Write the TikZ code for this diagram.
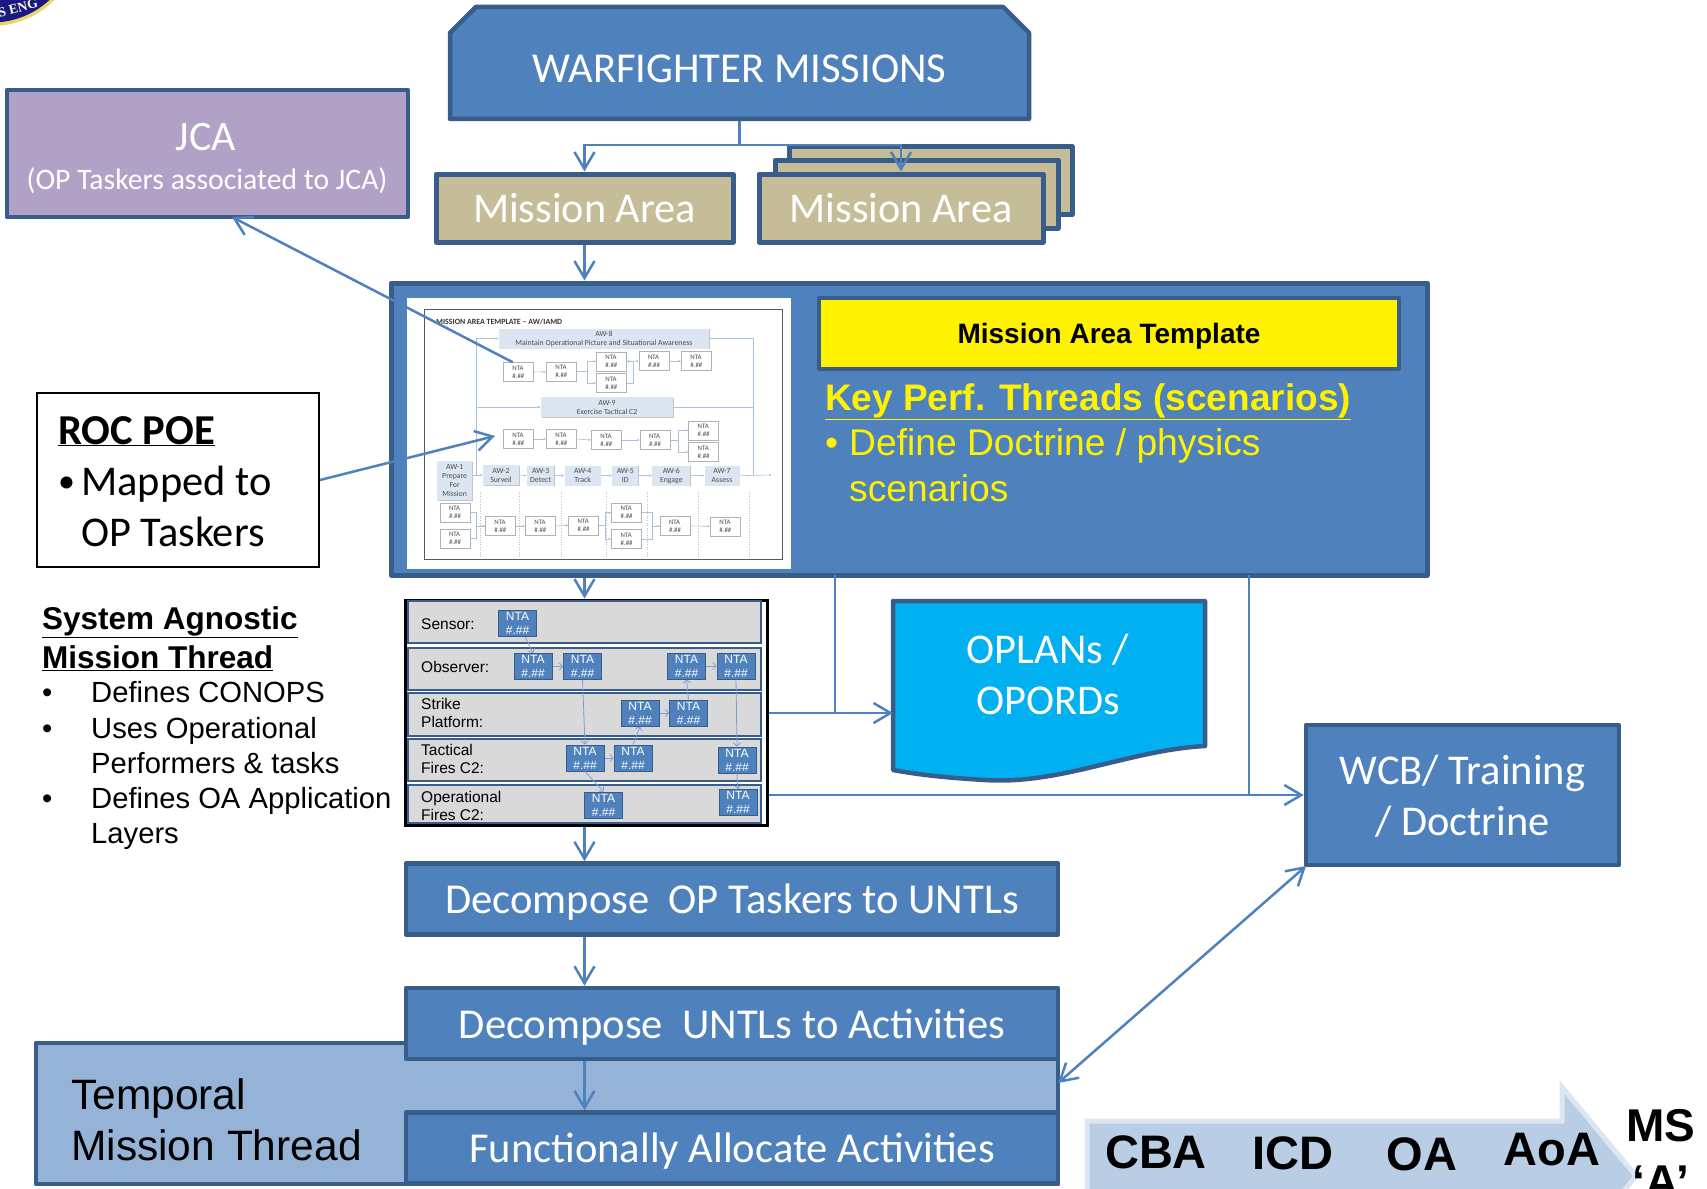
\documentclass[tikz,border=0pt]{standalone}
\usepackage{fontspec}
\setmainfont{Carlito}
\newfontfamily\arialfont{Liberation Sans}
\newfontfamily\sealfont{Liberation Serif}
\usepackage{xcolor}
\usetikzlibrary{arrows.meta}
\usetikzlibrary{shapes.misc}
\usetikzlibrary{shadows}
\definecolor{boxblue}{HTML}{4F81BD}
\definecolor{edgeblue}{HTML}{385D8A}
\definecolor{jcapurple}{HTML}{B2A1C7}
\definecolor{tan}{HTML}{C4BD97}
\definecolor{cyanbox}{HTML}{00B0F0}
\definecolor{temporalblue}{HTML}{95B3D7}
\definecolor{arrowfill}{HTML}{B9CDE5}
\definecolor{arrowedge}{HTML}{DCE6F2}
\definecolor{thumbline}{HTML}{A9C3DF}
\newcommand{\fs}[2]{\fontsize{#1}{#2}\selectfont}
\newcommand{\ntatext}{NTA\\\#.\#\#}
\tikzset{
  bluebox/.style={draw=edgeblue,line width=4.5pt,line join=round,fill=boxblue,text=white,inner sep=0pt,font=\fs{42.6}{51}},
  tanbox/.style={draw=edgeblue,line width=5pt,line join=round,fill=tan,text=white,inner sep=0pt,text depth=0pt,font=\fs{42.3}{46},minimum height=68pt},
  link/.style={color=boxblue,line width=2.5pt},
  arrowlink/.style={link,-{Straight Barb[length=17pt,width=20pt,line width=2.5pt]}},
  lane/.style={draw=edgeblue,line width=2pt,fill=black!15,minimum width=353pt,inner sep=0pt},
  lanetext/.style={anchor=west,align=left,inner sep=0pt,font=\arialfont\fs{15.5}{18}},
  ntabox/.style={draw=edgeblue,line width=1pt,fill=boxblue,text=white,minimum width=38pt,minimum height=26pt,inner sep=0pt,align=center,font=\arialfont\fs{12}{14}},
  lanearrow/.style={color=boxblue!75,line width=.8pt,-{Straight Barb[length=3pt,width=7pt]}},
  thumbnta/.style={draw=black!30,line width=.5pt,fill=white,minimum width=30pt,minimum height=19pt,inner sep=0pt,align=left,text=black!70,font=\fs{6.8}{8}},
  thumbaw/.style={fill=arrowedge,inner sep=0pt,align=center,text=black!70,font=\fs{7.8}{9},drop shadow={shadow xshift=.8pt,shadow yshift=-.8pt,fill=black!45}},
  thumblink/.style={color=thumbline,line width=.6pt},
  thumbarrow/.style={thumblink,-{Latex[length=2.5pt,width=2.5pt]}},
  textline/.style={anchor=base west,inner sep=0pt}
}
\begin{document}
\begin{tikzpicture}[x=1pt,y=-1pt]
  \path[use as bounding box,clip] (0,0) rectangle (1707,1188);
  % seal in the corner
  \fill[color=yellow!55!brown!70!white] (-8,-62) circle (88);
  \fill[color=blue!45!black!90] (-8,-62) circle (84.5);
  \node[rotate=14,text=white!90!yellow,inner sep=0pt,font=\sealfont\bfseries\fs{13.5}{13.5}] (seal) at (18,8) {S ENG};

  % top row
  \node[bluebox,text depth=0pt,shape=chamfered rectangle,chamfered rectangle corners={north west,north east},chamfered rectangle xsep=20pt,chamfered rectangle ysep=18pt,minimum width=579pt,minimum height=112pt] (missions) at (739.5,63) {\raisebox{-12pt}{WARFIGHTER MISSIONS}};
  \node[bluebox,fill=jcapurple,minimum width=401pt,minimum height=127pt] (jca) at (207.5,153.5) {};
  \node[text=white,font=\fs{42}{42},inner sep=0pt] (jcatitle) at (206,137) {JCA};
  \node[text=white,font=\fs{29.7}{30},inner sep=0pt] (jcasub) at (207,181) {(OP Taskers associated to JCA)};
  \node[tanbox,minimum width=297pt] (area) at (584.5,208) {Mission Area};
  \node[tanbox,minimum width=283pt] (areaback) at (930.5,180.5) {};
  \node[tanbox,minimum width=283pt] (areamid) at (916.5,194) {};
  \node[tanbox,minimum width=284pt] (areafront) at (901,208) {Mission Area};
  \coordinate (split) at (739.5,145);
  \draw[link] (missions.south) -- (split);
  \draw[arrowlink] (split) -| (area.north);
  \draw[arrowlink] (split) -| (areafront.north);

  % template panel
  \node[bluebox,line width=5pt,minimum width=1036pt,minimum height=292pt] (template) at (909,429) {};
  \node[fill=white,inner sep=0pt,minimum width=384pt,minimum height=271pt] (thumb) at (599,433.5) {};
  \node[draw=black!65,line width=.8pt,inner sep=0pt,minimum width=358pt,minimum height=250pt] (thumbframe) at (603,434) {};
  \node[draw=edgeblue,line width=4pt,line join=round,fill=yellow,minimum width=580pt,minimum height=71pt,inner sep=0pt,text depth=0pt,font=\arialfont\bfseries\fs{28}{30}] (title) at (1109,333) {Mission Area Template};
  \node[textline,text=yellow,font=\arialfont\bfseries\fs{37}{40}] (keyperf) at (825,410) {\underline{Key Perf. Threads (scenarios)}};
  \node[textline,text=yellow,font=\arialfont\fs{37.2}{40}] (bulletone) at (825,455) {•};
  \node[textline,text=yellow,font=\arialfont\fs{37.2}{40}] (doctrine) at (849,455) {Define Doctrine / physics};
  \node[textline,text=yellow,font=\arialfont\fs{37.2}{40}] (scenarios) at (849,501) {scenarios};

  % thumbnail content
  \begin{scope}[shift={(400,290)},x=.33333pt,y=-.33333pt]
    \node[anchor=west,inner sep=0pt,text=black!80,font=\bfseries\fs{7.9}{8}] (thumbtitle) at (108,95) {MISSION AREA TEMPLATE – AW/IAMD};
    \node[thumbaw,minimum width=210pt,minimum height=20pt] (aw8) at (612,146) {AW-8\\Maintain Operational  Picture and Situational Awareness};
    \node[thumbaw,minimum width=132pt,minimum height=20pt] (aw9) at (621,351) {AW-9\\Exercise Tactical C2};
    \node[thumbaw,minimum width=35pt,minimum height=39pt] (aw1) at (164,571) {AW-1\\Prepare\\For\\Mission};
    \node[thumbaw,minimum width=36pt,minimum height=20pt] (aw2) at (303,555) {AW-2\\Surveil};
    \node[thumbaw,minimum width=27pt,minimum height=20pt] (aw3) at (422,557) {AW-3\\Detect};
    \node[thumbaw,minimum width=36pt,minimum height=20pt] (aw4) at (548,557) {AW-4\\Track};
    \node[thumbaw,minimum width=26pt,minimum height=20pt] (aw5) at (676,557) {AW-5\\ID};
    \node[thumbaw,minimum width=38pt,minimum height=20pt] (aw6) at (814,557) {AW-6\\Engage};
    \node[thumbaw,minimum width=35pt,minimum height=20pt] (aw7) at (966,557) {AW-7\\Assess};
    \node[thumbnta] (a1) at (355,246) {\ntatext};
    \node[thumbnta] (a2) at (484,245) {\ntatext};
    \node[thumbnta] (a3) at (634,214) {\ntatext};
    \node[thumbnta] (a4) at (634,279) {\ntatext};
    \node[thumbnta] (a5) at (762,213) {\ntatext};
    \node[thumbnta] (a6) at (889,213) {\ntatext};
    \node[thumbnta] (b1) at (355,447) {\ntatext};
    \node[thumbnta] (b2) at (484,447) {\ntatext};
    \node[thumbnta] (b3) at (619,450) {\ntatext};
    \node[thumbnta] (b4) at (765,450) {\ntatext};
    \node[thumbnta] (b5) at (911,421) {\ntatext};
    \node[thumbnta] (b6) at (911,486) {\ntatext};
    \node[thumbnta] (c1) at (165,668) {\ntatext};
    \node[thumbnta] (c2) at (165,745) {\ntatext};
    \node[thumbnta] (c3) at (301,708) {\ntatext};
    \node[thumbnta] (c4) at (421,708) {\ntatext};
    \node[thumbnta] (c5) at (551,706) {\ntatext};
    \node[thumbnta] (c6) at (680,668) {\ntatext};
    \node[thumbnta] (c7) at (680,747) {\ntatext};
    \node[thumbnta] (c8) at (825,708) {\ntatext};
    \node[thumbnta] (c9) at (976,709) {\ntatext};
    \coordinate (trunk) at (229,555);
    \coordinate (merge) at (1060,555);
    \coordinate (thumbout) at (1115,555);
    \draw[thumbarrow] (trunk) |- (aw8.west);
    \draw[thumbarrow] (trunk) |- (aw9.west);
    \draw[thumbarrow] (aw1.east |- aw2.west) -- (aw2.west);
    \draw[thumbarrow] (aw2.east) -- (aw3.west);
    \draw[thumbarrow] (aw3.east) -- (aw4.west);
    \draw[thumbarrow] (aw4.east) -- (aw5.west);
    \draw[thumbarrow] (aw5.east) -- (aw6.west);
    \draw[thumbarrow] (aw6.east) -- (aw7.west);
    \draw[thumbarrow] (aw7.east) -- (thumbout);
    \draw[thumblink] (aw8.east) -| (merge);
    \draw[thumblink] (aw9.east) -| (merge);
    \draw[thumbarrow] (a1.east) -- (a2.west);
    \draw[thumbarrow] (a2.east) -- +(33,0) |- (a3.west);
    \draw[thumbarrow] (a2.east) -- +(33,0) |- (a4.west);
    \draw[thumbarrow] (a4.east) -- +(20,0) |- (a3.east);
    \draw[thumbarrow] (a3.east) -- (a5.west);
    \draw[thumbarrow] (a5.east) -- (a6.west);
    \draw[thumbarrow] (b1.east) -- (b2.west);
    \draw[thumbarrow] (b2.east) -- (b3.west);
    \draw[thumbarrow] (b3.east) -- (b4.west);
    \draw[thumbarrow] (b4.east) -- +(25,0) |- (b5.west);
    \draw[thumbarrow] (b4.east) -- +(25,0) |- (b6.west);
    \draw[thumbarrow] (c1.east) -- +(18,0) |- (c3.west);
    \draw[thumblink] (c2.east) -- +(18,0) |- (c3.west);
    \draw[thumbarrow] (c3.east) -- (c4.west);
    \draw[thumbarrow] (c4.east) -- (c5.west);
    \draw[thumbarrow] (c5.east) -- +(18,0) |- (c6.west);
    \draw[thumbarrow] (c5.east) -- +(18,0) |- (c7.west);
    \draw[thumbarrow] (c6.east) -- +(30,0) |- (c8.west);
    \draw[thumblink] (c7.east) -- +(30,0) |- (c8.west);
    \draw[thumbarrow] (c8.east) -- (c9.west);
    \foreach \xsep in {240,358,483,620,742,895,1048}
      \draw[color=black!25,line width=.4pt,dotted] (\xsep,605) -- (\xsep,800);
  \end{scope}

  % JCA and ROC POE
  \coordinate (jcaend) at (232,217);
  \draw[arrowlink] (a1.120) -- (jcaend);
  \node[draw=black,line width=2pt,fill=white,minimum width=282pt,minimum height=174pt,inner sep=0pt] (roc) at (178,480) {};
  \node[textline,font=\bfseries\fs{42.6}{44}] (roctitle) at (58,444) {\underline{ROC POE}};
  \node[textline,font=\fs{34}{44}] (rocbullet) at (58,492) {•};
  \node[textline,font=\fs{42.4}{44}] (rocone) at (81,495) {Mapped to};
  \node[textline,font=\fs{42.4}{44}] (roctwo) at (81,546) {OP Taskers};
  \coordinate (rocend) at (495,436);
  \draw[arrowlink] (roc.east) -- (rocend);

  % mission thread notes
  \node[textline,font=\arialfont\bfseries\fs{31.5}{34}] (agnostic) at (42,629) {\underline{System Agnostic}};
  \node[textline,font=\arialfont\bfseries\fs{31.5}{34}] (thread) at (42,668) {\underline{Mission Thread}};
  \node[textline,font=\arialfont\fs{29.2}{30}] (noteone) at (42,702) {•};
  \node[textline,font=\arialfont\fs{29.2}{30}] (notetwo) at (42,738) {•};
  \node[textline,font=\arialfont\fs{29.2}{30}] (notethree) at (42,808) {•};
  \node[textline,font=\arialfont\fs{29.2}{30}] (conops) at (91,702) {Defines CONOPS};
  \node[textline,font=\arialfont\fs{29.2}{30}] (uses) at (91,738) {Uses Operational};
  \node[textline,font=\arialfont\fs{29.2}{30}] (performers) at (91,773) {Performers \& tasks};
  \node[textline,font=\arialfont\fs{29.2}{30}] (defines) at (91,808) {Defines OA Application};
  \node[textline,font=\arialfont\fs{29.2}{30}] (layers) at (91,843) {Layers};

  % swim lanes
  \node[fill=white,draw=black,line width=3pt,minimum width=362pt,minimum height=225pt,inner sep=0pt] (lanes) at (586,712.5) {};
  \node[lane,minimum height=42pt] (lanesensor) at (584.5,622) {};
  \node[lane,minimum height=42pt] (laneobserver) at (584.5,669) {};
  \node[lane,minimum height=43pt] (lanestrike) at (584.5,714.5) {};
  \node[lane,minimum height=42pt] (lanetactical) at (584.5,760) {};
  \node[lane,minimum height=38pt] (laneoperational) at (584.5,804) {};
  \node[lanetext] (sensortext) at (421,624) {Sensor:};
  \node[lanetext] (observertext) at (421,667) {Observer:};
  \node[lanetext] (striketext) at (421,713) {Strike\\Platform:};
  \node[lanetext] (tacticaltext) at (421,759) {Tactical\\Fires C2:};
  \node[lanetext] (operationaltext) at (421,806) {Operational\\Fires C2:};
  \node[ntabox] (s1) at (517.5,623.5) {\ntatext};
  \node[ntabox] (o1) at (533,666.5) {\ntatext};
  \node[ntabox] (o2) at (582.5,666.5) {\ntatext};
  \node[ntabox] (o3) at (686.5,666) {\ntatext};
  \node[ntabox] (o4) at (736,666) {\ntatext};
  \node[ntabox] (p1) at (640,713) {\ntatext};
  \node[ntabox] (p2) at (688.5,713) {\ntatext};
  \node[ntabox] (t1) at (585,758) {\ntatext};
  \node[ntabox] (t2) at (633,758) {\ntatext};
  \node[ntabox] (t3) at (737,760) {\ntatext};
  \node[ntabox] (f1) at (603.5,805) {\ntatext};
  \node[ntabox] (f2) at (738,802.5) {\ntatext};
  \draw[lanearrow] (s1.-60) -- (o1.north);
  \draw[lanearrow] (o1.east) -- (o2.west);
  \draw[lanearrow] (o2.south) -- (t1.north);
  \draw[lanearrow] (o3.east) -- (o4.west);
  \draw[lanearrow,{Straight Barb[length=3pt,width=7pt]}-] (o3.south) -- (p2.north);
  \draw[lanearrow] (p1.east) -- (p2.west);
  \draw[lanearrow] (t1.east) -- (t2.west);
  \draw[lanearrow] (t2.north) -- (p1.south);
  \draw[lanearrow] (o4.south) -- (t3.north);
  \draw[lanearrow] (t3.south) -- (f2.north);
  \draw[lanearrow] (t1.south) -- (f1.north);
  \draw[arrowlink] (template.south -| area.south) -- (lanes.north -| area.south);

  % outputs
  \draw[draw=edgeblue,line width=4.5pt,line join=round,fill=cyanbox] (893,601) -- (1205,601) -- (1205,746) .. controls (1130,750) and (1060,785) .. (985,780) .. controls (950,778) and (920,775) .. (893,770) -- cycle;
  \node[text=white,align=center,inner sep=0pt,font=\fs{42.4}{51}] (oplans) at (1048,674) {OPLANs /\\OPORDs};
  \coordinate (oplansin) at (893,713);
  \coordinate (oplansjoin) at (835,713);
  \coordinate (templateone) at (835,575);
  \coordinate (wcbjoin) at (1249,795);
  \coordinate (templatetwo) at (1249,575);
  \node[bluebox,minimum width=313pt,minimum height=140pt] (wcb) at (1462.5,795) {};
  \node[text=white,align=center,inner sep=0pt,font=\fs{42.4}{51}] (wcbtext) at (1462.5,796) {WCB/ Training\\/ Doctrine};
  \draw[link] (templateone) -- (oplansjoin);
  \draw[link] (templatetwo) -- (wcbjoin);
  \draw[arrowlink] (lanes.east |- oplansin) -- (oplansin);
  \draw[arrowlink] (lanes.east |- wcb.west) -- (wcb.west);

  % decomposition
  \node[bluebox,fill=temporalblue,minimum width=1022pt,minimum height=141pt] (temporal) at (547,1113.5) {};
  \node[bluebox,text depth=0pt,minimum width=652pt,minimum height=71pt] (optaskers) at (732,899) {Decompose\ \ OP Taskers to UNTLs};
  \node[bluebox,text depth=0pt,minimum width=652pt,minimum height=71pt] (untls) at (732,1023.5) {Decompose\ \ UNTLs to Activities};
  \node[bluebox,text depth=0pt,minimum width=652pt,minimum height=71pt] (allocate) at (732,1148) {Functionally Allocate Activities};
  \node[anchor=west,align=left,inner sep=0pt,font=\arialfont\fs{42.5}{51}] (temporaltext) at (71,1120) {Temporal\\Mission Thread};
  \draw[arrowlink] (lanes.south -| area.south) -- (optaskers.north -| area.south);
  \draw[arrowlink] (optaskers.south -| area.south) -- (untls.north -| area.south);
  \draw[arrowlink] (untls.south -| area.south) -- (allocate.north -| area.south);
  \draw[arrowlink] (area.south) -- (template.north -| area.south);
  \coordinate (temporalout) at (1058,1083);
  \coordinate (wcbcorner) at (1306,866);
  \draw[arrowlink,{Straight Barb[length=17pt,width=20pt,line width=2.5pt]}-{Straight Barb[length=17pt,width=20pt,line width=2.5pt]}] (temporalout) -- (wcbcorner);

  % milestone arrow
  \draw[draw=arrowedge,line width=5pt,fill=arrowfill] (1087,1121) -- (1562,1121) -- (1562,1087) -- (1636,1176) -- (1562,1265) -- (1562,1231) -- (1087,1231) -- cycle;
  \node[inner sep=0pt,font=\arialfont\bfseries\fs{47}{50}] (cba) at (1156,1152) {CBA};
  \node[inner sep=0pt,font=\arialfont\bfseries\fs{47}{50}] (icd) at (1293,1153) {ICD};
  \node[inner sep=0pt,font=\arialfont\bfseries\fs{47}{50}] (oa) at (1422,1154) {OA};
  \node[inner sep=0pt,font=\arialfont\bfseries\fs{47}{50}] (aoa) at (1552,1150) {AoA};
  \node[inner sep=0pt,align=center,font=\arialfont\bfseries\fs{46}{56}] (ms) at (1661,1153) {MS\\‘A’};
\end{tikzpicture}
\end{document}
